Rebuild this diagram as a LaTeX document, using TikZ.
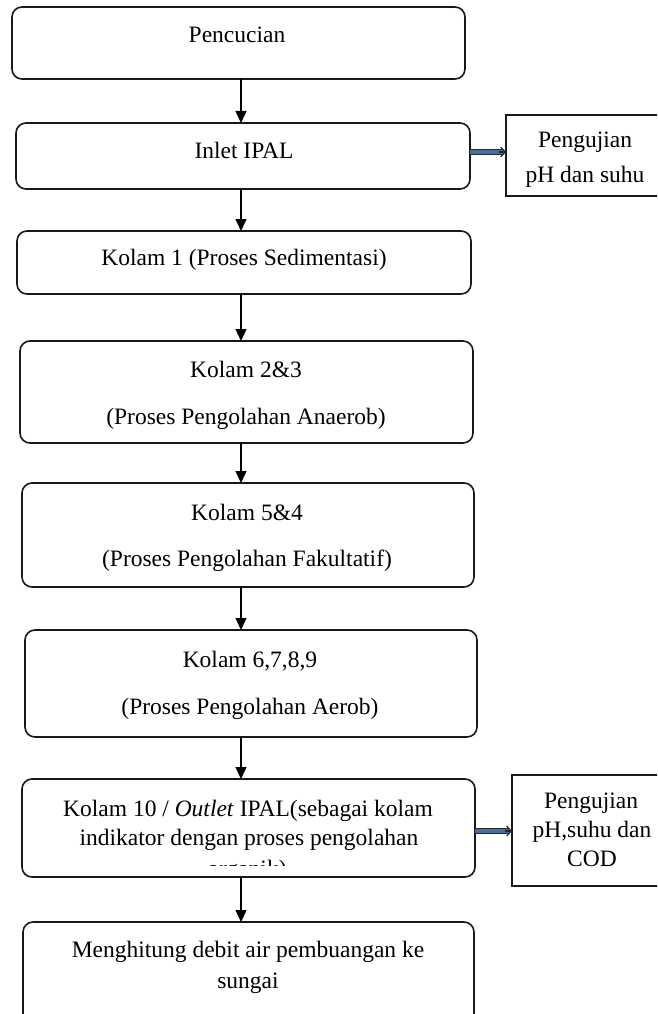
\documentclass[tikz,border=0pt]{standalone}
\usepackage{fontspec}
\setmainfont{Liberation Serif}
\usetikzlibrary{arrows.meta}
\definecolor{arrowblue}{RGB}{70,110,160}
\tikzset{
  box/.style={draw=black!90, line width=1.6pt, rounded corners=10pt, inner sep=0pt, outer sep=0pt},
  sidebox/.style={draw=black!90, line width=1.4pt, inner sep=0pt, outer sep=0pt},
  txt/.style={anchor=base, inner sep=0pt, font=\fontsize{23.5}{29}\selectfont},
  flow/.style={line width=1.3pt, -{Triangle[length=12pt,width=11pt]}},
  dbl/.style={line width=1.2pt, draw=black!85, double=arrowblue, double distance=3.2pt},
  tip/.style={line width=1.2pt, draw=black!85, -{Straight Barb[length=4.5pt,width=10pt]}}
}
\begin{document}
\begin{tikzpicture}[x=1pt,y=-1pt]
\useasboundingbox (0,0) rectangle (657,1014);
\clip (0,0) rectangle (657,1014);
\coordinate (ax) at (241,0);
% boxes
\node[box, minimum width=453pt, minimum height=72pt] (b1) at (238.5,43) {};
\node[box, minimum width=454pt, minimum height=66pt] (b2) at (243,156) {};
\node[box, minimum width=454pt, minimum height=63pt] (b3) at (244,262.5) {};
\node[box, minimum width=453pt, minimum height=102pt] (b4) at (246.5,392) {};
\node[box, minimum width=452pt, minimum height=104pt] (b5) at (248,535) {};
\node[box, minimum width=452pt, minimum height=107pt] (b6) at (251,683.5) {};
\node[box, minimum width=453pt, minimum height=98pt] (b7) at (248.5,828) {};
\node[box, minimum width=451pt, minimum height=108pt] (b8) at (248.5,976) {};
\node[sidebox, minimum width=159pt, minimum height=81pt] (s1) at (585.5,155.5) {};
\node[sidebox, minimum width=158pt, minimum height=111pt] (s2) at (591,830.5) {};
% texts
\node[txt] (t1) at (237,43) {Pencucian};
\node[txt] (t2) at (244,158) {Inlet IPAL};
\node[txt] (t3) at (244,265) {Kolam 1 (Proses Sedimentasi)};
\node[txt] (t4a) at (246,377) {Kolam 2\&3};
\node[txt] (t4b) at (246,424) {(Proses Pengolahan Anaerob)};
\node[txt] (t5a) at (247,520) {Kolam 5\&4};
\node[txt] (t5b) at (247,566) {(Proses Pengolahan Fakultatif)};
\node[txt] (t6a) at (250,667) {Kolam 6,7,8,9};
\node[txt] (t6b) at (250,714) {(Proses Pengolahan Aerob)};
\node[txt] (t7a) at (248,816) {Kolam 10 / \textit{Outlet} IPAL(sebagai kolam};
\node[txt] (t7b) at (249,845) {indikator dengan proses pengolahan};
\begin{scope}
\clip (150,850) rectangle (350,865);
\node[txt] (t7c) at (247,876) {organik)};
\end{scope}
\node[txt] (t8a) at (248,957) {Menghitung debit air pembuangan ke};
\node[txt] (t8b) at (248,988) {sungai};
\node[txt] (s1a) at (585,147) {Pengujian};
\node[txt] (s1b) at (585,182) {pH dan suhu};
\node[txt] (s2a) at (591,808) {Pengujian};
\node[txt] (s2b) at (592,837) {pH,suhu dan};
\node[txt] (s2c) at (592,866) {COD};
% flow arrows
\draw[flow] (b1.south -| ax) -- (b2.north -| ax);
\draw[flow] (b2.south -| ax) -- (b3.north -| ax);
\draw[flow] (b3.south -| ax) -- (b4.north -| ax);
\draw[flow] (b4.south -| ax) -- (b5.north -| ax);
\draw[flow] (b5.south -| ax) -- (b6.north -| ax);
\draw[flow] (b6.south -| ax) -- (b7.north -| ax);
\draw[flow] (b7.south -| ax) -- (b8.north -| ax);
% double arrows to side boxes
\coordinate (d1) at ([yshift=4pt]b2.east);
\coordinate (d2) at ([yshift=-3pt]b7.east);
\draw[dbl] (d1) -- ([xshift=-3pt]d1 -| s1.west);
\draw[tip] ([xshift=-7pt]d1 -| s1.west) -- (d1 -| s1.west);
\draw[dbl] (d2) -- ([xshift=-3pt]d2 -| s2.west);
\draw[tip] ([xshift=-7pt]d2 -| s2.west) -- (d2 -| s2.west);
\end{tikzpicture}
\end{document}
